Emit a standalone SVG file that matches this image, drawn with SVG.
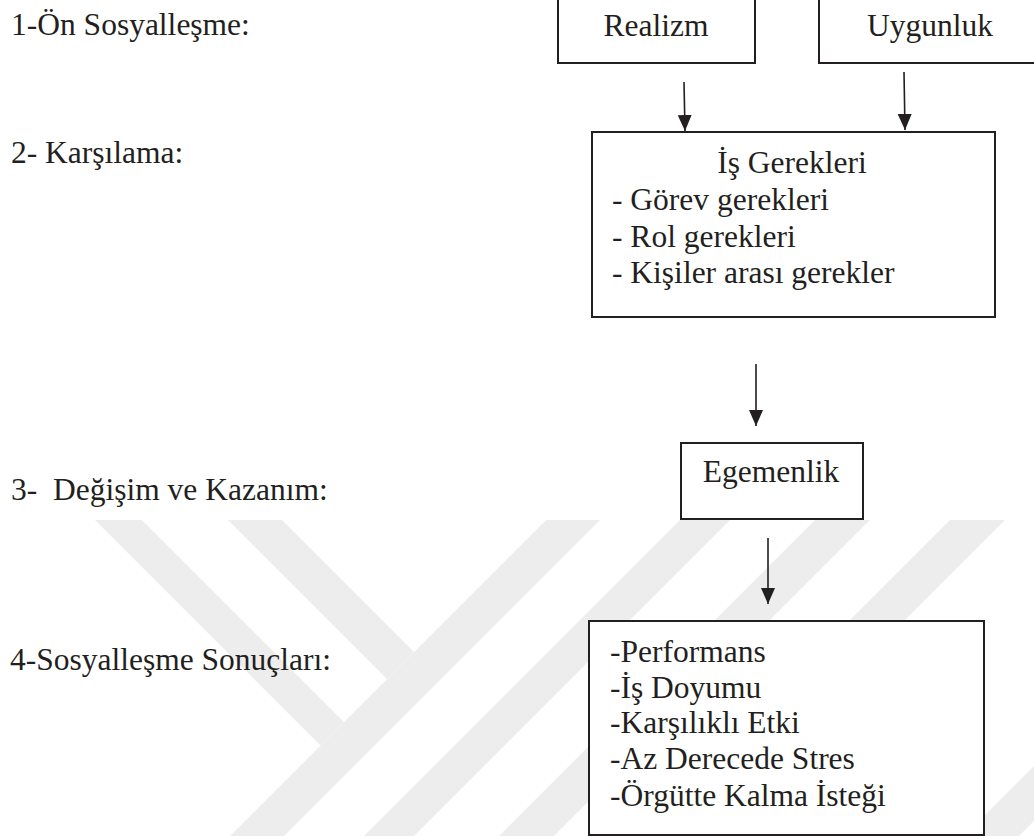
<svg xmlns="http://www.w3.org/2000/svg" width="1034" height="836" viewBox="0 0 1034 836">
<style>
  text { font-family: 'Liberation Serif', 'Times New Roman', Times, 'DejaVu Serif', serif; font-size: 31.5px; fill: #231f20; white-space: pre; }
  .c { text-anchor: middle; }
  .box { fill: #ffffff; stroke: #231f20; stroke-width: 2; }
  .arr { stroke: #231f20; stroke-width: 1.6; fill: none; marker-end: url(#ah); }
  .wm { fill: #ededed; }
</style>
<defs>
  <marker id="ah" viewBox="0 0 16 14" markerWidth="16" markerHeight="14" refX="16" refY="7" orient="auto" markerUnits="userSpaceOnUse">
    <path d="M0,0 L16,7 L0,14 z" fill="#231f20"/>
  </marker>
</defs>
<rect x="0" y="0" width="1034" height="836" fill="#ffffff"/>
<g id="watermark">
  <polygon class="wm" points="95,520 142,520 344,722 320.5,745.5"/>
  <polygon class="wm" points="228,520 282,520 414,652 387,679"/>
  <polygon class="wm" points="546,520 600,520 284,836 230,836"/>
  <polygon class="wm" points="680,520 730,520 414,836 364,836"/>
  <polygon class="wm" points="815,520 870,520 554,836 499,836"/>
  <polygon class="wm" points="950,520 1005,520 689,836 634,836"/>
  <polygon class="wm" points="1034,766 1034,821 1019,836 964,836"/>
</g>
<g id="stage-labels" font-family="Liberation Serif, serif">
  <text x="11" y="35">1-Ön Sosyalleşme:</text>
  <text x="11" y="163">2- Karşılama:</text>
  <text x="11" y="500">3-  Değişim ve Kazanım:</text>
  <text x="10" y="670">4-Sosyalleşme Sonuçları:</text>
</g>
<g id="node-realizm">
  <rect class="box" x="558" y="-10" width="197" height="73"/>
  <text class="c" x="656" y="36">Realizm</text>
</g>
<g id="node-uygunluk">
  <rect class="box" x="819" y="-10" width="230" height="73"/>
  <text class="c" x="930" y="36">Uygunluk</text>
</g>
<g id="node-is-gerekleri">
  <rect class="box" x="592" y="132" width="403" height="185"/>
  <text class="c" x="792" y="173">İş Gerekleri</text>
  <text x="612" y="210">- Görev gerekleri</text>
  <text x="612" y="247">- Rol gerekleri</text>
  <text x="612" y="283">- Kişiler arası gerekler</text>
</g>
<g id="node-egemenlik">
  <rect class="box" x="681" y="443" width="182" height="76"/>
  <text class="c" x="771" y="482">Egemenlik</text>
</g>
<g id="node-sonuclar">
  <rect class="box" x="589" y="621" width="395" height="214"/>
  <text x="610" y="662">-Performans</text>
  <text x="610" y="698">-İş Doyumu</text>
  <text x="610" y="733">-Karşılıklı Etki</text>
  <text x="610" y="769">-Az Derecede Stres</text>
  <text x="610" y="806">-Örgütte Kalma İsteği</text>
</g>
<g id="connectors">
  <line class="arr" x1="684" y1="82" x2="685" y2="131"/>
  <line class="arr" x1="904" y1="72" x2="905" y2="130"/>
  <line class="arr" x1="756" y1="364" x2="756" y2="426"/>
  <line class="arr" x1="768" y1="538" x2="768" y2="604"/>
</g>
</svg>
